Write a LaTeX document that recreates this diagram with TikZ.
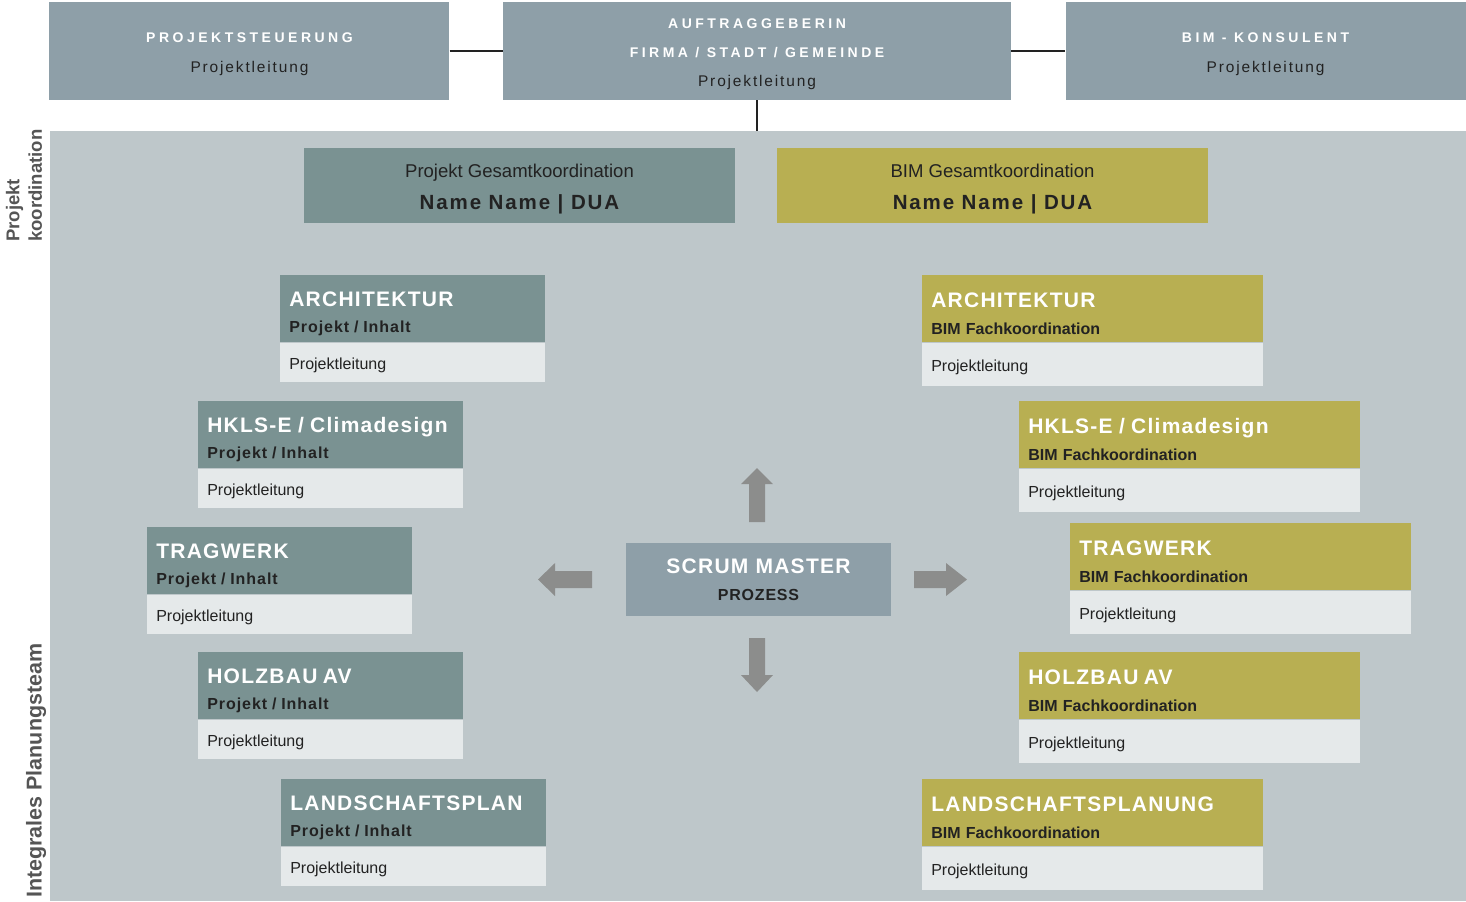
\documentclass[tikz,border=0pt]{standalone}
\usepackage{fontspec}
\setmainfont{Liberation Sans}
\usepackage{tikz}
\usetikzlibrary{positioning}
\usepackage{xcolor}
\definecolor{topgrey}{HTML}{8E9FA8}
\definecolor{panelgrey}{HTML}{BEC7CA}
\definecolor{projteal}{HTML}{7A9292}
\definecolor{bimgold}{HTML}{B8AF52}
\definecolor{lightrow}{HTML}{E5E9EA}
\definecolor{arrowgrey}{HTML}{8C8D8C}
\definecolor{ink}{HTML}{222222}
\definecolor{sideink}{HTML}{555555}
\newcommand{\topfont}{\fontsize{10.5}{22}\selectfont\bfseries\addfontfeature{LetterSpace=25}}
\newcommand{\topsubfont}{\fontsize{11.6}{22}\selectfont\addfontfeature{LetterSpace=12}}
\newcommand{\gesfont}{\fontsize{13.9}{24}\selectfont}
\newcommand{\namefont}{\fontsize{15.4}{24}\selectfont\bfseries\addfontfeature{LetterSpace=9}}
\newcommand{\titlefont}{\fontsize{15.75}{20}\selectfont\bfseries\addfontfeature{LetterSpace=6}}
\newcommand{\projsubfont}{\fontsize{12}{20}\selectfont\bfseries\addfontfeature{LetterSpace=6}}
\newcommand{\bimsubfont}{\fontsize{12}{20}\selectfont\bfseries}
\newcommand{\prozessfont}{\fontsize{12}{20}\selectfont\bfseries\addfontfeature{LetterSpace=5}}
\newcommand{\headstrut}{\rule{0pt}{18.8pt}}
\newcommand{\slashgap}{\hspace{0.3em}/\hspace{0.3em}}
\tikzset{
  topbox/.style={fill=topgrey,text=white,minimum height=73.5pt,inner sep=0pt,
                 align=center,font=\fontsize{10.5}{22}\selectfont},
  gesamtbox/.style={minimum width=323.25pt,minimum height=56.25pt,inner sep=0pt,
                    align=center,text=ink,font=\fontsize{13.9}{24}\selectfont},
  projhead/.style={fill=projteal,text=white,anchor=north west,text width=185.25pt,
                   inner xsep=6.75pt,inner ysep=0pt,minimum height=50.25pt,align=left,
                   font=\fontsize{12}{20}\selectfont},
  projbody/.style={fill=lightrow,text=ink,text width=185.25pt,inner xsep=6.75pt,
                   inner ysep=0pt,minimum height=29.25pt,align=left,
                   font=\fontsize{12}{14}\selectfont,
                   execute at begin node={\rule{0pt}{12.6pt}}},
  bimhead/.style={fill=bimgold,text=white,anchor=north west,text width=242.25pt,
                  inner xsep=6.75pt,inner ysep=0pt,minimum height=50.25pt,align=left,
                  font=\fontsize{12}{20}\selectfont},
  bimbody/.style={fill=lightrow,text=ink,text width=242.25pt,inner xsep=6.75pt,
                  inner ysep=0pt,minimum height=32.25pt,align=left,
                  font=\fontsize{12}{14}\selectfont,
                  execute at begin node={\rule{0pt}{13.4pt}}},
  link/.style={draw=ink,line width=2pt},
  blockarrow/.style={fill=arrowgrey},
  sidelabel/.style={rotate=90,anchor=west,align=left,inner sep=0pt,text=sideink}
}

\begin{document}
\begin{tikzpicture}[x=0.75pt,y=-0.75pt]
  \useasboundingbox (0,0) rectangle (1466,901);
  % top row
  \node[topbox,minimum width=381pt] (auftrag) at (757,51)
    {{\topfont\rule{0pt}{12pt}AUFTRAGGEBERIN}\\{\topfont FIRMA / STADT / GEMEINDE}\\
     {\topsubfont\color{ink}Projektleitung}};
  \node[topbox,minimum width=300pt,left=39.75pt of auftrag] (steuer)
    {{\topfont\rule{0pt}{12pt}PROJEKTSTEUERUNG}\\{\topsubfont\color{ink}Projektleitung}};
  \node[topbox,minimum width=300pt,right=40.5pt of auftrag] (konsulent)
    {{\topfont\rule{0pt}{12pt}BIM - KONSULENT}\\{\topsubfont\color{ink}Projektleitung}};

  % team panel
  \node[fill=panelgrey,minimum width=1062pt,minimum height=577.5pt,inner sep=0pt,
        anchor=north west] (panel) at (50,131) {};
  \draw[link] (steuer) -- (auftrag);
  \draw[link] (auftrag) -- (konsulent);
  \draw[link] (auftrag.south) -- (auftrag.south |- panel.north);

  \node[sidelabel,font=\fontsize{13.9}{17}\selectfont\bfseries] (koordlabel) at (24,242)
    {Projekt\\koordination};
  \node[sidelabel,font=\fontsize{16.1}{18}\selectfont\bfseries] (teamlabel) at (36,898)
    {Integrales Planungsteam};

  % Gesamtkoordination
  \node[gesamtbox,fill=projteal] (projges) at (519.5,185.5)
    {{\gesfont\rule{0pt}{15.3pt}Projekt Gesamtkoordination}\\{\namefont Name Name | DUA}};
  \node[gesamtbox,fill=bimgold] (bimges) at (992.5,185.5)
    {{\gesfont\rule{0pt}{15.3pt}BIM Gesamtkoordination}\\{\namefont Name Name | DUA}};

  % Projekt / Inhalt
  \node[projhead] (archProj) at (280,275)
    {{\titlefont\headstrut ARCHITEKTUR}\\{\projsubfont\color{ink}Projekt\slashgap Inhalt}};
  \node[projbody,below=0pt of archProj] (archProjPL) {Projektleitung};
  \node[projhead] (hklsProj) at (198,401)
    {{\titlefont\headstrut HKLS-E\slashgap Climadesign}\\{\projsubfont\color{ink}Projekt\slashgap Inhalt}};
  \node[projbody,below=0pt of hklsProj] (hklsProjPL) {Projektleitung};
  \node[projhead] (tragProj) at (147,527)
    {{\titlefont\headstrut TRAGWERK}\\{\projsubfont\color{ink}Projekt\slashgap Inhalt}};
  \node[projbody,below=0pt of tragProj] (tragProjPL) {Projektleitung};
  \node[projhead] (holzProj) at (198,652)
    {{\titlefont\headstrut HOLZBAU AV}\\{\projsubfont\color{ink}Projekt\slashgap Inhalt}};
  \node[projbody,below=0pt of holzProj] (holzProjPL) {Projektleitung};
  \node[projhead] (landProj) at (281,779)
    {{\titlefont\headstrut LANDSCHAFTSPLAN}\\{\projsubfont\color{ink}Projekt\slashgap Inhalt}};
  \node[projbody,below=0pt of landProj] (landProjPL) {Projektleitung};

  % BIM Fachkoordination
  \node[bimhead] (archBim) at (922,275)
    {{\titlefont\headstrut ARCHITEKTUR}\\{\bimsubfont\color{ink}BIM Fachkoordination}};
  \node[bimbody,below=0pt of archBim] (archBimPL) {Projektleitung};
  \node[bimhead] (hklsBim) at (1019,401)
    {{\titlefont\headstrut HKLS-E\slashgap Climadesign}\\{\bimsubfont\color{ink}BIM Fachkoordination}};
  \node[bimbody,below=0pt of hklsBim] (hklsBimPL) {Projektleitung};
  \node[bimhead] (tragBim) at (1070,523)
    {{\titlefont\headstrut TRAGWERK}\\{\bimsubfont\color{ink}BIM Fachkoordination}};
  \node[bimbody,below=0pt of tragBim] (tragBimPL) {Projektleitung};
  \node[bimhead] (holzBim) at (1019,652)
    {{\titlefont\headstrut HOLZBAU AV}\\{\bimsubfont\color{ink}BIM Fachkoordination}};
  \node[bimbody,below=0pt of holzBim] (holzBimPL) {Projektleitung};
  \node[bimhead] (landBim) at (922,779)
    {{\titlefont\headstrut LANDSCHAFTSPLANUNG}\\{\bimsubfont\color{ink}BIM Fachkoordination}};
  \node[bimbody,below=0pt of landBim] (landBimPL) {Projektleitung};

  % scrum master with arrows
  \node[fill=topgrey,minimum width=198.75pt,minimum height=54.75pt,inner sep=0pt,
        align=center,font=\fontsize{12}{20}\selectfont] (scrum) at (758.5,579.5)
    {{\titlefont\color{white}SCRUM MASTER}\\{\prozessfont\color{ink}PROZESS}};
  \fill[blockarrow] (749,522) -- (749,484) -- (741,484) -- (757,468) -- (773,484)
    -- (765,484) -- (765,522) -- cycle;
  \fill[blockarrow] (749,638) -- (749,675) -- (741,675) -- (757,692) -- (773,675)
    -- (765,675) -- (765,638) -- cycle;
  \fill[blockarrow] (592,571) -- (555,571) -- (555,563) -- (538,579.5) -- (555,596)
    -- (555,588) -- (592,588) -- cycle;
  \fill[blockarrow] (914,571) -- (946,571) -- (946,563) -- (967,579.5) -- (946,596)
    -- (946,588) -- (914,588) -- cycle;
\end{tikzpicture}
\end{document}
